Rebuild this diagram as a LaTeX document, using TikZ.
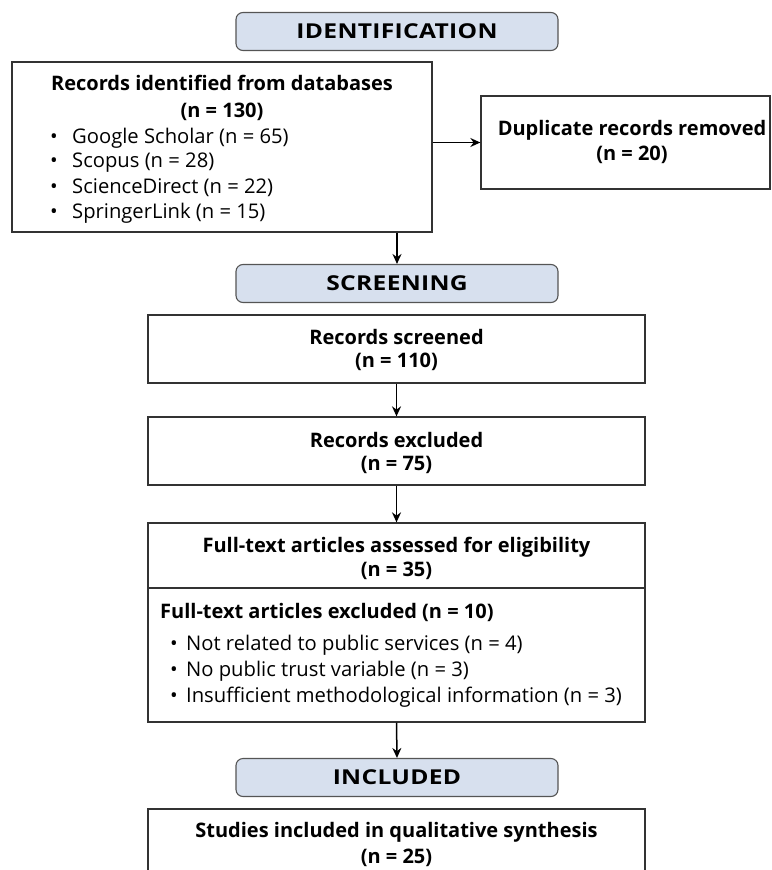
\documentclass[tikz,border=0pt]{standalone}
\usepackage{fontspec}
\setmainfont{Open Sans}
\newfontfamily\hdrfont[FakeStretch=1.2,LetterSpace=1.5]{Open Sans}
\usetikzlibrary{arrows.meta}
\definecolor{hdrfill}{HTML}{D7E0EE}
\definecolor{edgec}{HTML}{333333}
\definecolor{hdredge}{HTML}{555555}
\begin{document}
\begin{tikzpicture}[x=1pt,y=-1pt,
  box/.style={draw=edgec, line width=1.3pt, fill=white, inner sep=0pt, rectangle},
  hdr/.style={draw=hdredge, line width=1.1pt, fill=hdrfill, rounded corners=7pt, inner sep=0pt,
    minimum width=322pt, minimum height=38pt, font=\hdrfont\fontsize{20.5}{24}\selectfont\bfseries},
  ttl/.style={inner sep=0pt, font=\fontsize{20}{24}\selectfont\bfseries},
  txt/.style={inner sep=0pt, font=\fontsize{20.2}{24}\selectfont},
  arr/.style={draw=black, line width=1.5pt, -{Stealth[length=10pt,width=9pt]}},
  wide/.style={minimum width=497pt}]
\useasboundingbox (0,0) rectangle (771,870);
\clip (0,0) rectangle (771,870);
% headers
\node[hdr] (hid) at (397,31.5) {IDENTIFICATION};
\node[hdr] (hsc) at (397,283.5) {SCREENING};
\node[hdr] (hin) at (397,777.5) {INCLUDED};
% boxes
\node[box, minimum width=420pt, minimum height=170pt] (rec) at (222,147) {};
\node[box, minimum width=289pt, minimum height=93pt] (dup) at (625.5,142.5) {};
\node[box, wide, minimum height=68pt] (scr) at (396.5,349) {};
\node[box, wide, minimum height=68pt] (exc) at (396.5,451) {};
\node[box, wide, minimum height=199pt] (ful) at (396.5,622.5) {};
\node[box, wide, minimum height=91pt] (stu) at (396.5,854.5) {};
\coordinate (divl) at (148,588);
\coordinate (divr) at (645,588);
\draw[draw=edgec, line width=1.3pt] (divl) -- (divr);
% texts
\node[ttl] (t1) at (222,83) {Records identified from databases};
\node[ttl] (t1n) at (222,112) {(n = 130)};
\node[txt, anchor=west] (b1) at (50,138) {\makebox[22pt][l]{•}Google Scholar (n = 65)};
\node[txt, anchor=west] (b2) at (50,163) {\makebox[22pt][l]{•}Scopus (n = 28)};
\node[txt, anchor=west] (b3) at (50,188) {\makebox[22pt][l]{•}ScienceDirect (n = 22)};
\node[txt, anchor=west] (b4) at (50,213) {\makebox[22pt][l]{•}SpringerLink (n = 15)};
\node[ttl] (t2) at (632,130) {Duplicate records removed};
\node[ttl] (t2n) at (632,155) {(n = 20)};
\node[ttl] (t3) at (396.5,337) {Records screened};
\node[ttl] (t3n) at (396.5,362) {(n = 110)};
\node[ttl] (t4) at (396.5,440) {Records excluded};
\node[ttl] (t4n) at (396.5,465) {(n = 75)};
\node[ttl] (t5) at (396.5,547) {Full-text articles assessed for eligibility};
\node[ttl] (t5n) at (396.5,571) {(n = 35)};
\node[ttl, anchor=west] (t6) at (160,612) {Full-text articles excluded (n = 10)};
\node[txt, anchor=west] (c1) at (170,645) {\makebox[16pt][l]{•}Not related to public services (n = 4)};
\node[txt, anchor=west] (c2) at (170,671) {\makebox[16pt][l]{•}No public trust variable (n = 3)};
\node[txt, anchor=west] (c3) at (170,697) {\makebox[16pt][l]{•}Insufficient methodological information (n = 3)};
\node[ttl] (t7) at (396.5,832) {Studies included in qualitative synthesis};
\node[ttl] (t7n) at (396.5,858) {(n = 25)};
% arrows
\draw[arr] (rec.east |- dup.west) -- (dup.west);
\draw[arr] (rec.south -| hsc.north) -- (hsc.north);
\draw[arr] (scr.south) -- (exc.north);
\draw[arr] (exc.south) -- (ful.north);
\draw[arr] (ful.south) -- (hin.north);
\end{tikzpicture}
\end{document}
